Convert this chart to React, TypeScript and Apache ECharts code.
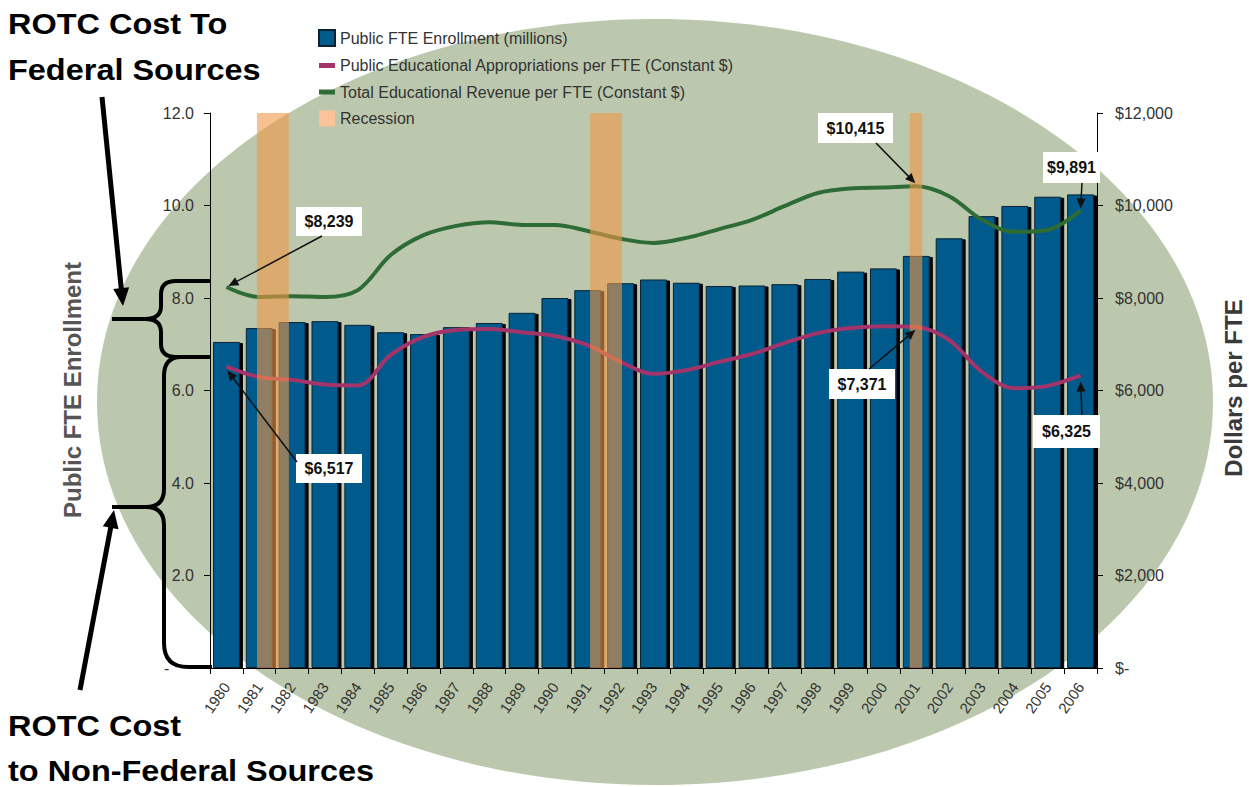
import React, { useEffect, useRef } from "react";
import * as echarts from "echarts";

const years = ["1980","1981","1982","1983","1984","1985","1986","1987","1988","1989","1990","1991","1992","1993","1994","1995","1996","1997","1998","1999","2000","2001","2002","2003","2004","2005","2006"];
const enrollment = [7.05,7.35,7.48,7.5,7.42,7.26,7.22,7.37,7.46,7.68,8.0,8.17,8.32,8.4,8.33,8.26,8.27,8.3,8.41,8.57,8.64,8.91,9.29,9.77,9.99,10.19,10.24];
const appropriations = [6517,6290,6230,6130,6110,6770,7160,7310,7330,7260,7180,6980,6620,6360,6440,6620,6790,7030,7240,7350,7390,7371,7090,6400,6050,6100,6325];
const revenue = [8239,8020,8040,8020,8170,8930,9360,9560,9640,9580,9580,9450,9280,9190,9300,9490,9690,9990,10270,10370,10390,10415,10200,9690,9430,9470,9891];
const recessions = [[1981.43, 1982.4], [1991.57, 1992.54], [2001.3, 2001.68]];
const leftTicks = { min: 0, max: 12, interval: 2 };
const rightTicks = { min: 0, max: 12000, interval: 2000 };
const seriesNames = [
  "Public FTE Enrollment (millions)",
  "Public Educational Appropriations per FTE (Constant $)",
  "Total Educational Revenue per FTE (Constant $)",
  "Recession",
];
const annotations = [
  { text: "$8,239", series: 2, idx: 0 },
  { text: "$6,517", series: 1, idx: 0 },
  { text: "$7,371", series: 1, idx: 21 },
  { text: "$10,415", series: 2, idx: 21 },
  { text: "$9,891", series: 2, idx: 26 },
  { text: "$6,325", series: 1, idx: 26 },
];
const boxLayout = [
  { x: 296, y: 207, w: 66, h: 29, sx: 322, sy: 236, ox: 2, oy: -1 },
  { x: 296, y: 454, w: 66, h: 29, sx: 297, sy: 462, ox: 1, oy: 4 },
  { x: 829, y: 369, w: 66, h: 30, sx: 869, sy: 369, ox: -1, oy: 3 },
  { x: 818, y: 113, w: 75, h: 30, sx: 876, sy: 143, ox: -1, oy: -3 },
  { x: 1043, y: 152, w: 57, h: 31, sx: 1082, sy: 183, ox: 0, oy: -2 },
  { x: 1033, y: 415, w: 67, h: 33, sx: 1082, sy: 415, ox: 0, oy: 6 },
];

const FONT = "'Liberation Sans', Arial, Helvetica, sans-serif";
const BAND = "rgba(240,150,70,0.6)";

let shapesRegistered = false;
function registerShapes() {
  if (shapesRegistered) return;
  shapesRegistered = true;
  echarts.graphic.registerShape(
    "brace1",
    echarts.graphic.extendPath(
      "M210,281 L176,281 Q161,281 161,294 L161,306 Q161,319 145,319 L112,319 M145,319 Q161,319 161,332 L161,344 Q161,357 176,357 L210,357",
      {}
    )
  );
  echarts.graphic.registerShape(
    "brace2",
    echarts.graphic.extendPath(
      "M210,357 L181,357 Q164,357 164,376 L164,489 Q164,507 146,507 L112,507 M146,507 Q164,507 164,525 L164,643 Q164,667 188,667 L212,667",
      {}
    )
  );
}

function arrow(x1: number, y1: number, x2: number, y2: number, w: number, hl: number, hw: number, color: string) {
  const dx = x2 - x1, dy = y2 - y1;
  const len = Math.sqrt(dx * dx + dy * dy);
  const ux = dx / len, uy = dy / len;
  const bx = x2 - ux * hl, by = y2 - uy * hl;
  const px = -uy, py = ux;
  return [
    { type: "line", z: 100, silent: true, shape: { x1, y1, x2: bx + ux, y2: by + uy }, style: { stroke: color, lineWidth: w } },
    {
      type: "polygon", z: 100, silent: true,
      shape: { points: [[x2, y2], [bx + px * hw, by + py * hw], [bx - px * hw, by - py * hw]] },
      style: { fill: color },
    },
  ];
}

function bigText(text: string, x: number, y: number) {
  return {
    type: "text", z: 100, silent: true, x, y, scaleX: 1.12,
    style: { text, font: `bold 29px ${FONT}`, fill: "#000", align: "left", verticalAlign: "top" },
  };
}

export default function App() {
  const ref = useRef<HTMLDivElement>(null);
  useEffect(() => {
    const el = ref.current;
    if (!el) return;
    registerShapes();
    const chart = echarts.init(el, null, { renderer: "svg" });
    const option: any = {
      animation: false,
      backgroundColor: "#ffffff",
      grid: { left: 210, right: 152, top: 113, bottom: 119, containLabel: false },
      legend: {
        orient: "vertical", left: 313, top: 24, itemWidth: 16, itemHeight: 16, itemGap: 10.5,
        selectedMode: false,
        textStyle: { fontSize: 16, color: "#333", fontFamily: FONT },
        data: [
          { name: seriesNames[0], icon: "rect" },
          { name: seriesNames[1], icon: "path://M0,0H16V5H0Z" },
          { name: seriesNames[2], icon: "path://M0,0H16V5H0Z" },
          { name: seriesNames[3], icon: "rect", itemStyle: { color: "#fbc39a" } },
        ],
      },
      xAxis: [
        {
          type: "category", data: years, boundaryGap: true,
          axisLine: { lineStyle: { color: "#000", width: 1 } },
          axisTick: { show: true, length: 6, lineStyle: { color: "#000" } },
          axisLabel: { rotate: 55, fontSize: 15, color: "#333", fontFamily: FONT, margin: 16, interval: 0 },
        },
        { type: "value", min: 0, max: years.length, show: false },
      ],
      yAxis: [
        {
          type: "value", ...leftTicks, position: "left",
          axisLine: { show: true, lineStyle: { color: "#000" } },
          axisTick: { show: true, length: 6, lineStyle: { color: "#000" } },
          splitLine: { show: false },
          axisLabel: {
            fontSize: 16, color: "#333", fontFamily: FONT, margin: 16,
            formatter: (v: number) => (v === 0 ? "{d|-}" : v.toFixed(1)),
            rich: { d: { width: 30, align: "left", fontSize: 16, color: "#333" } },
          },
        },
        {
          type: "value", ...rightTicks, position: "right",
          axisLine: { show: true, lineStyle: { color: "#000" } },
          axisTick: { show: true, length: 6, lineStyle: { color: "#000" } },
          splitLine: { show: false },
          axisLabel: {
            fontSize: 16, color: "#333", fontFamily: FONT, margin: 18,
            formatter: (v: number) => (v === 0 ? "$-" : "$" + v.toLocaleString("en-US")),
          },
        },
      ],
      series: [
        {
          name: seriesNames[0], type: "bar", data: enrollment, xAxisIndex: 0, yAxisIndex: 0, z: 2,
          barWidth: "82%",
          itemStyle: {
            color: "#005a8c", borderColor: "#0a2233", borderWidth: 1,
            shadowColor: "#000", shadowOffsetX: 3, shadowOffsetY: 1, shadowBlur: 0,
          },
        },
        {
          name: seriesNames[1], type: "line", data: appropriations, xAxisIndex: 0, yAxisIndex: 1, z: 3,
          smooth: 0.35, symbol: "none", color: "#a3346a",
          lineStyle: { color: "#a3346a", width: 4 },
        },
        {
          name: seriesNames[2], type: "line", data: revenue, xAxisIndex: 0, yAxisIndex: 1, z: 3,
          smooth: 0.35, symbol: "none", color: "#2e6b35",
          lineStyle: { color: "#2e6b35", width: 4 },
        },
        {
          name: seriesNames[3], type: "custom", xAxisIndex: 1, yAxisIndex: 0, color: BAND, z: 6,
          data: recessions.map((r) => [r[0] - 1980, r[1] - 1980]),
          encode: { x: [0, 1] },
          renderItem: (params: any, api: any) => {
            const s = api.value(0), e = api.value(1);
            const p1 = api.coord([s, leftTicks.max]);
            const p2 = api.coord([e, leftTicks.min]);
            return {
              type: "rect",
              shape: { x: p1[0], y: p1[1], width: p2[0] - p1[0], height: p2[1] - p1[1] },
              style: { fill: BAND },
            };
          },
        },
      ],
    };
    chart.setOption(option);

    const graphics: any[] = [
      { type: "ellipse", z: -10, silent: true, shape: { cx: 655, cy: 402, rx: 558, ry: 383 }, style: { fill: "#bcc8ad" } },
      { type: "brace1", z: 100, silent: true, style: { stroke: "#000", lineWidth: 4, fill: null } },
      { type: "brace2", z: 100, silent: true, style: { stroke: "#000", lineWidth: 4, fill: null } },
      ...arrow(102, 97, 123, 306, 5, 18, 8, "#000"),
      ...arrow(80, 690, 114, 510, 5, 18, 8, "#000"),
      bigText("ROTC Cost To", 8, 10),
      bigText("Federal Sources", 8, 56),
      bigText("ROTC Cost", 8, 712),
      bigText("to Non-Federal Sources", 8, 757),
      {
        type: "text", z: 100, silent: true, x: 72, y: 390, rotation: Math.PI / 2,
        style: { text: "Public FTE Enrollment", font: `bold 24px ${FONT}`, fill: "#555", align: "center", verticalAlign: "middle" },
      },
      {
        type: "text", z: 100, silent: true, x: 1233, y: 388, rotation: Math.PI / 2,
        style: { text: "Dollars per FTE", font: `bold 24px ${FONT}`, fill: "#3a3a3a", align: "center", verticalAlign: "middle" },
      },
    ];
    annotations.forEach((a, i) => {
      const b = boxLayout[i];
      const val = a.series === 1 ? appropriations[a.idx] : revenue[a.idx];
      const p = chart.convertToPixel({ seriesIndex: a.series }, [a.idx, val]) as number[];
      graphics.push({
        type: "rect", z: 100, silent: true, shape: { x: b.x, y: b.y, width: b.w, height: b.h }, style: { fill: "#fff" },
      });
      graphics.push({
        type: "text", z: 101, silent: true, x: b.x + b.w / 2, y: b.y + b.h / 2,
        style: { text: a.text, font: `bold 16px ${FONT}`, fill: "#111", align: "center", verticalAlign: "middle" },
      });
      graphics.push(...arrow(b.sx, b.sy, p[0] + b.ox, p[1] + b.oy, 1.5, 10, 4.5, "#111"));
    });
    chart.setOption({ graphic: { elements: graphics } });
    return () => chart.dispose();
  }, []);
  return (
    <div
      ref={ref}
      style={{ position: "fixed", left: 0, top: 0, width: 1249, height: 787, background: "#fff" }}
    />
  );
}
